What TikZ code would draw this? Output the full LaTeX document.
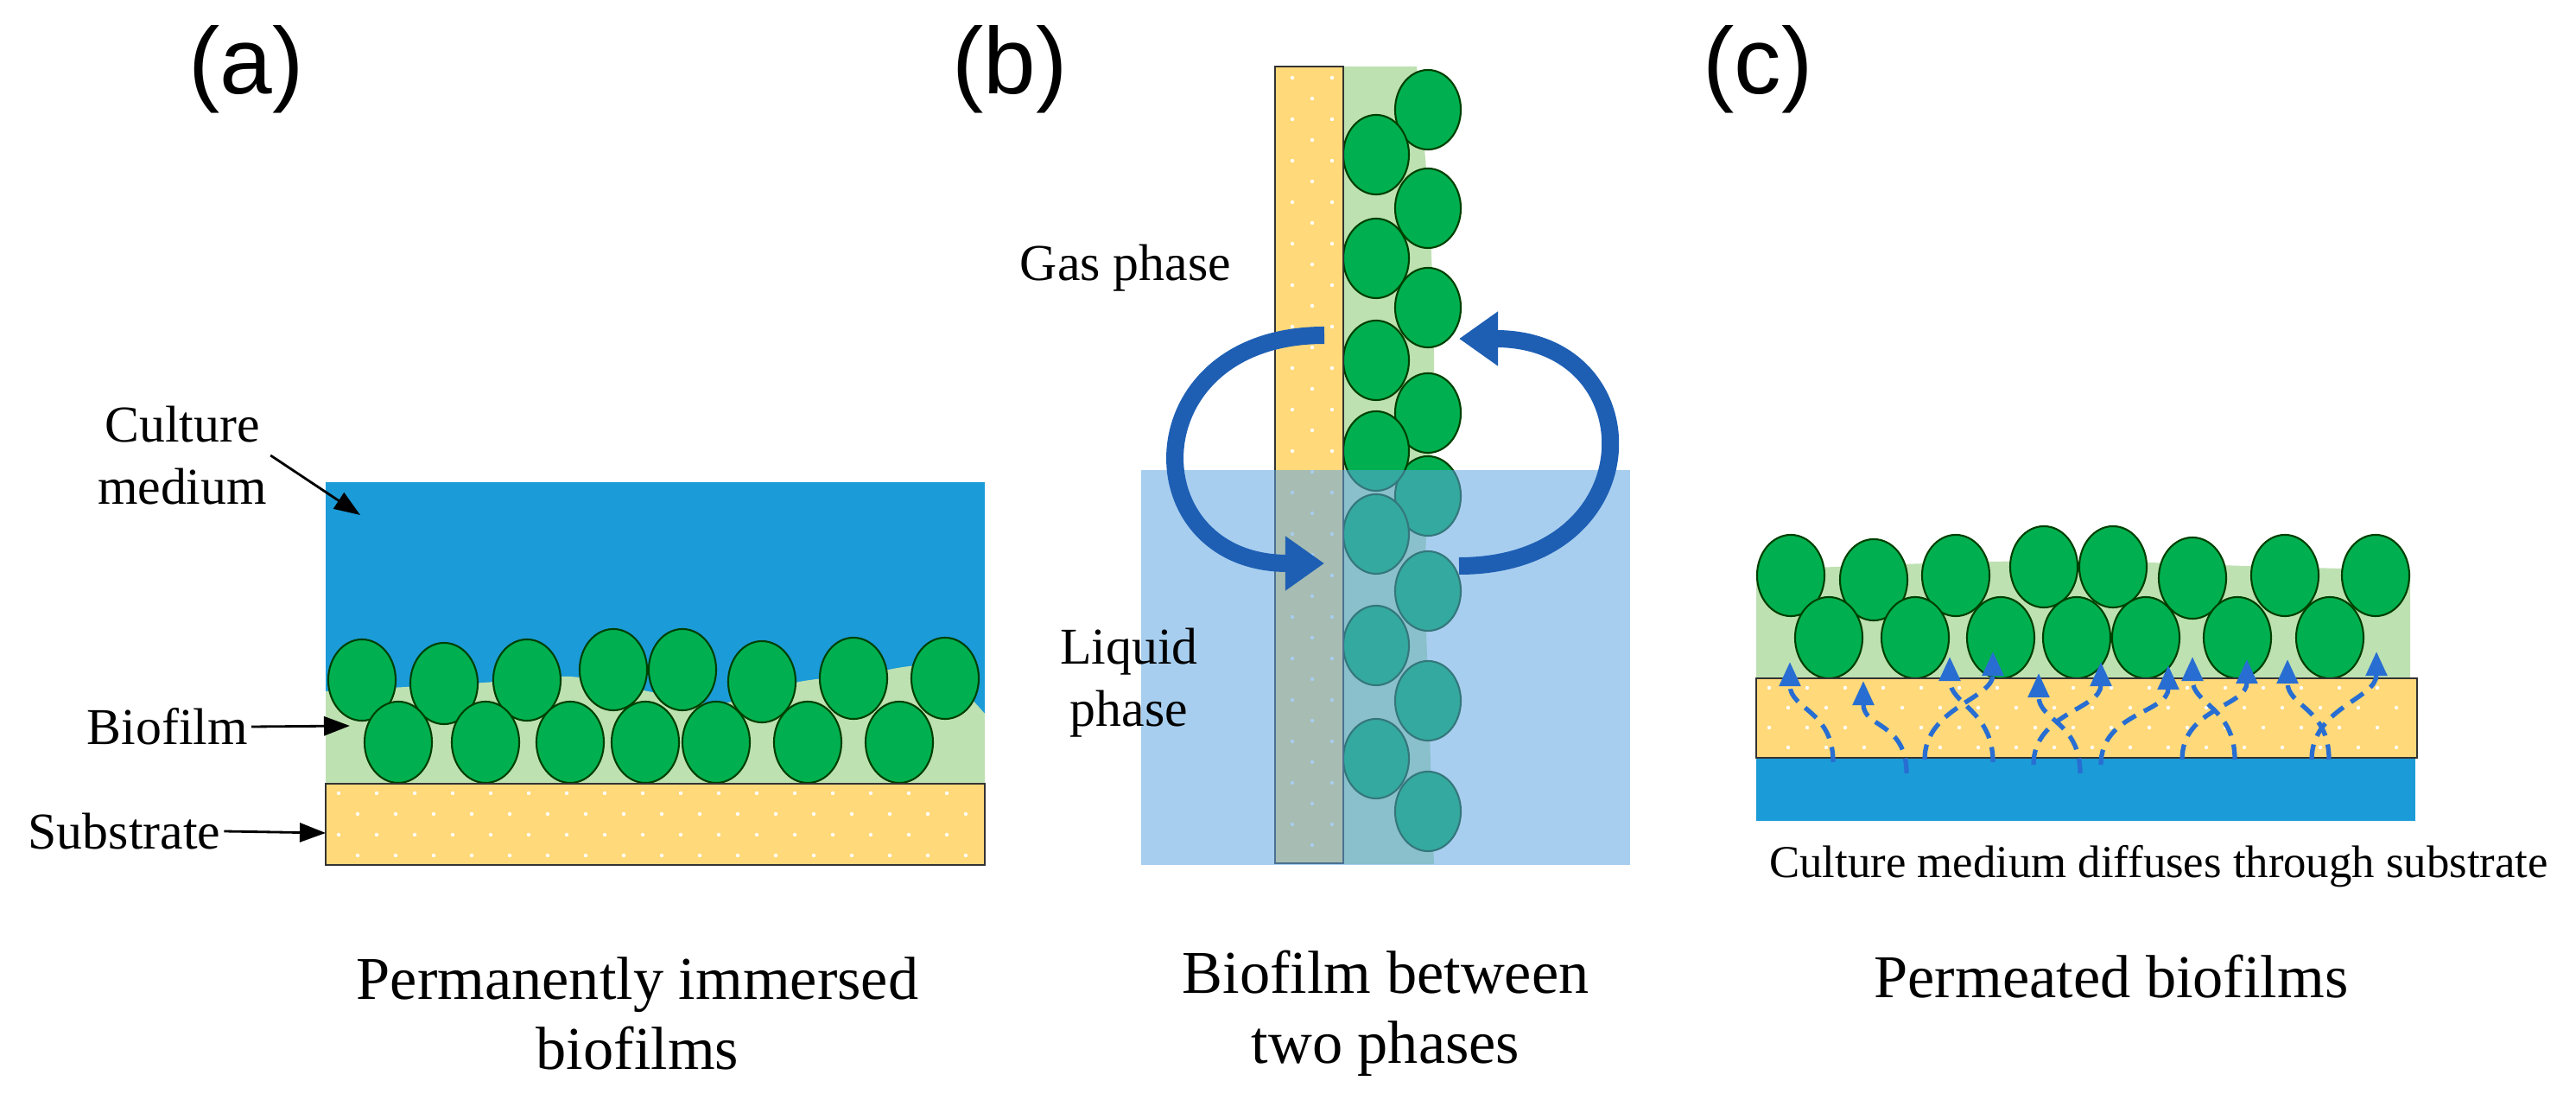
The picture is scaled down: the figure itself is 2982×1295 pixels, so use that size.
\documentclass[tikz,border=0pt]{standalone}
\usepackage{fontspec}
\setmainfont{Liberation Serif}
\newfontfamily\sansf{Liberation Sans}
\usetikzlibrary{arrows.meta}
\definecolor{water}{RGB}{27,155,215}
\definecolor{sub}{RGB}{255,217,122}
\definecolor{cellg}{RGB}{0,176,80}
\definecolor{film}{RGB}{190,225,178}
\definecolor{liq}{RGB}{95,165,225}
\definecolor{flow}{RGB}{30,95,180}
\definecolor{dsh}{RGB}{40,110,210}
\begin{document}
\begin{tikzpicture}[x=0.01cm,y=-0.01cm,
  cell/.style={fill=cellg,draw=black!75!green,line width=0.6pt},
  lbl/.style={font=\fontsize{17}{20.5}\selectfont,inner sep=1pt},
  captxt/.style={font=\fontsize{20}{23}\selectfont,align=center},
  ttl/.style={font=\sansf\fontsize{31}{36}\selectfont},
  ptr/.style={-{Triangle[length=0.3cm,width=0.22cm]},line width=0.8pt},
  subs/.style={fill=sub,draw=black!80,line width=0.8pt},
  big/.style={flow,line width=0.2cm,-{Triangle[length=0.45cm,width=0.6cm]}},
  dif/.style={dsh,dash pattern=on 5pt off 3pt,line width=1.5pt,-{Triangle[length=0.28cm,width=0.24cm]}}]
\useasboundingbox (0,0) rectangle (2982,1295);

% titles
\node[ttl] (ta) at (285,80) {(a)};
\node[ttl] (tb) at (1169,80) {(b)};
\node[ttl] (tc) at (2035,80) {(c)};

% ---------- panel a ----------
\fill[water] (377,558) rectangle (1140,907);
\fill[film] (377,907) -- plot[smooth] coordinates {(377,800)(470,795)(560,790)(660,783)(750,800)(830,815)(920,790)(1000,780)(1080,772)(1140,826)} -- (1140,907) -- cycle;
\foreach \x/\y in {419/787,514/791,610/787,710/775,790/775,882/789,988/785,1094/785}
  \filldraw[cell] (\x,\y) ellipse [x radius=0.39cm,y radius=0.47cm];
\foreach \x in {461,562,660,747,829,935,1041}
  \filldraw[cell] (\x,859) ellipse [x radius=0.39cm,y radius=0.47cm];
\filldraw[subs] (377,907) rectangle (1140,1001);
\foreach \r in {0,...,3} \foreach \c in {0,...,16}
  \fill[white] ({392+\c*44+mod(\r,2)*22},{918+\r*24}) circle (0.022cm);

\node[lbl,align=center] (cm) at (211,527) {Culture\\medium};
\coordinate (cmT) at (417,596);
\draw[ptr] (cm.east) -- (cmT);
\node[lbl] (bf) at (194,841) {Biofilm};
\coordinate (bfT) at (405,840);
\draw[ptr] (bf.east) -- (bfT);
\node[lbl] (sb) at (144,962) {Substrate};
\coordinate (sbT) at (377,964);
\draw[ptr] (sb.east) -- (sbT);
\node[captxt] (capa) at (738,1173) {Permanently immersed\\biofilms};

% ---------- panel b ----------
\fill[film] (1555,77) -- plot[smooth] coordinates {(1640,77)(1655,250)(1660,450)(1650,650)(1655,850)(1660,1000)} -- (1555,1000) -- cycle;
\foreach \y in {127,241,356,478,574,684,811,939}
  \filldraw[cell] (1653,\y) ellipse [x radius=0.38cm,y radius=0.46cm];
\foreach \y in {179,299,417,522,618,747,878}
  \filldraw[cell] (1593,\y) ellipse [x radius=0.38cm,y radius=0.46cm];
\filldraw[subs] (1476,77) rectangle (1555,999);
\foreach \r in {0,...,37}{
  \ifodd\r
    \fill[white] (1519,{90+\r*24}) circle (0.022cm);
  \else
    \fill[white] (1496,{90+\r*24}) circle (0.022cm);
    \fill[white] (1542,{90+\r*24}) circle (0.022cm);
  \fi}
\fill[liq,fill opacity=.55] (1321,544) rectangle (1887,1001);
\coordinate (l1) at (1533,388); \coordinate (l2) at (1533,652);
\coordinate (r1) at (1689,655); \coordinate (r2) at (1689,392);
\draw[big] (l1) .. controls (1310,388) and (1310,652) .. (l2);
\draw[big] (r1) .. controls (1915,655) and (1915,392) .. (r2);
\node[lbl] (gas) at (1303,310) {Gas phase};
\node[lbl,align=center] (liqp) at (1307,790) {Liquid\\phase};
\node[captxt] (capb) at (1604,1173) {Biofilm between\\two phases};

% ---------- panel c ----------
\fill[water] (2033,877) rectangle (2796,950);
\fill[film] (2033,785) -- plot[smooth] coordinates {(2033,660)(2150,655)(2300,650)(2450,650)(2600,655)(2790,660)} -- (2790,785) -- cycle;
\foreach \x/\y in {2073/666,2169/671,2264/666,2366/656,2446/656,2538/669,2645/666,2750/666}
  \filldraw[cell] (\x,\y) ellipse [x radius=0.39cm,y radius=0.47cm];
\foreach \x in {2117,2217,2316,2404,2484,2590,2697}
  \filldraw[cell] (\x,738) ellipse [x radius=0.39cm,y radius=0.47cm];
\filldraw[subs] (2033,785) rectangle (2798,877);
\foreach \r in {0,...,3} \foreach \c in {0,...,16}
  \fill[white] ({2048+\c*44+mod(\r,2)*22},{796+\r*23}) circle (0.022cm);
\foreach \bx/\by/\tx/\ty in {2122/882/2072/766, 2207/895/2157/788, 2228/879/2307/754,
   2307/882/2257/760, 2354/885/2432/766, 2408/895/2360/779, 2432/885/2510/770,
   2526/879/2601/763, 2587/879/2538/760, 2676/879/2751/754, 2696/879/2648/763}
  \draw[dif] (\bx,\by) .. controls (\bx,\by-60) and (\tx,\ty+55) .. (\tx,\ty);
\node[lbl,font=\fontsize{15}{18}\selectfont] (cmd) at (2499,1003) {Culture medium diffuses through substrate};
\node[captxt] (capc) at (2444,1130) {Permeated biofilms};
\end{tikzpicture}
\end{document}
